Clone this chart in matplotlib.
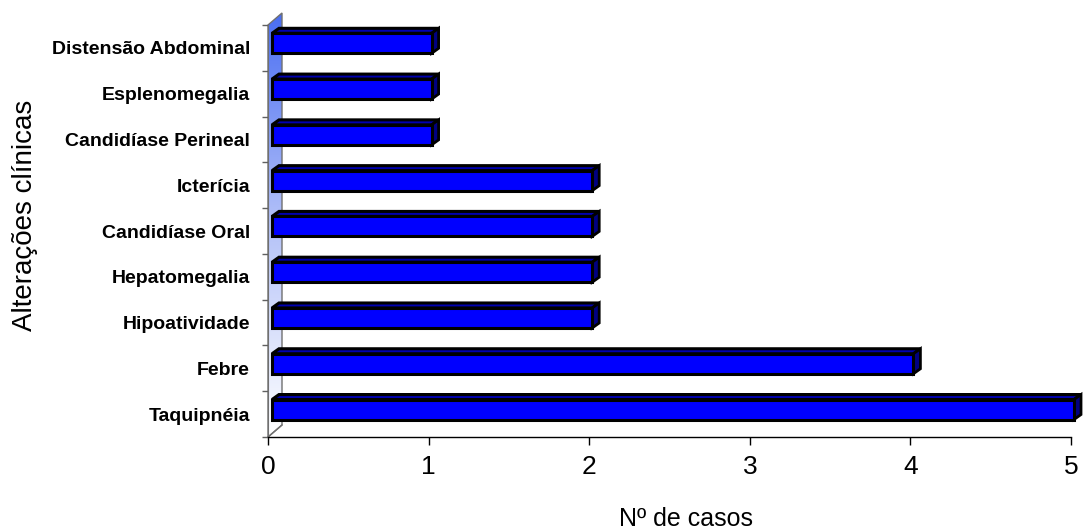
import matplotlib.pyplot as plt
import numpy as np
from matplotlib.patches import Polygon, Rectangle
from matplotlib.colors import LinearSegmentedColormap

categorias = ['Taquipnéia', 'Febre', 'Hipoatividade', 'Hepatomegalia',
              'Candidíase Oral', 'Icterícia', 'Candidíase Perineal',
              'Esplenomegalia', 'Distensão Abdominal']
casos = [5, 4, 2, 2, 2, 2, 1, 1, 1]
xticks = [0, 1, 2, 3, 4, 5]

plt.rcParams['font.family'] = ['Liberation Sans', 'DejaVu Sans']

fig = plt.figure(figsize=(10.84, 5.30), dpi=100)
ax = fig.add_axes([268 / 1084, 93 / 530, 803 / 1084, 412 / 530])
ax.set_xlim(0, 5)
ax.set_ylim(-0.5, 8.5)

# pixel -> data conversions for the fake 3D depth
px_x = 5 / 803.0
px_y = 9 / 412.0

# back wall with gradient
wx, wy = 14 * px_x, 12 * px_y
wall = Polygon([(0, -0.5), (0, 8.5), (wx, 8.5 + wy), (wx, -0.5 + wy)],
               closed=True, facecolor='none', edgecolor='#707070', lw=1.0,
               clip_on=False, zorder=1)
ax.add_patch(wall)
cmap = LinearSegmentedColormap.from_list('wall', ['#ffffff', '#b4c2f8', '#4a6ef2'])
grad = np.linspace(0, 1, 256).reshape(-1, 1)
im = ax.imshow(grad, cmap=cmap, origin='lower', aspect='auto',
               extent=(0, wx, -0.5, 8.5 + wy), zorder=0.5)
im.set_clip_box(fig.bbox)
im.set_clip_path(wall)
ax.set_xlim(0, 5)
ax.set_ylim(-0.5, 8.5)
ax.plot([0, wx], [-0.5, -0.5 + wy], color='#707070', lw=1.0, clip_on=False, zorder=1)

# bars
x0 = 4 * px_x
dx, dy = 7 * px_x, 5 * px_y
h = 20 * px_y
for i, v in enumerate(casos):
    yc = i + 0.1
    yb, yt = yc - h / 2, yc + h / 2
    x1 = v + 3 * px_x
    top = Polygon([(x0, yt), (x0 + dx, yt + dy), (x1 + dx, yt + dy), (x1, yt)],
                  closed=True, facecolor='#0000b0', edgecolor='black', lw=2.2,
                  joinstyle='miter', clip_on=False, zorder=3)
    side = Polygon([(x1, yb), (x1, yt), (x1 + dx, yt + dy), (x1 + dx, yb + dy)],
                   closed=True, facecolor='#000080', edgecolor='black', lw=2.0,
                   joinstyle='miter', clip_on=False, zorder=3)
    front = Rectangle((x0, yb), x1 - x0, h, facecolor='#0000ff',
                      edgecolor='black', lw=2.2, joinstyle='miter',
                      clip_on=False, zorder=4)
    ax.add_patch(top)
    ax.add_patch(side)
    ax.add_patch(front)

for s in ['top', 'right']:
    ax.spines[s].set_visible(False)
ax.spines['left'].set_color('#707070')
ax.spines['bottom'].set_color('black')
ax.spines['bottom'].set_linewidth(1.0)

ax.set_xticks(xticks)
ax.set_xticklabels([str(t) for t in xticks], fontsize=19)
ax.tick_params(axis='x', direction='out', length=6, width=1, pad=7)

ax.set_yticks(np.arange(len(categorias)))
ax.set_yticklabels(categorias, fontsize=14, fontweight='bold')
ax.set_yticks(np.arange(-0.5, len(categorias), 1), minor=True)
ax.tick_params(axis='y', which='major', length=0, pad=13)
ax.tick_params(axis='y', which='minor', direction='out', length=4.5, width=1,
               color='#606060')

fig.text(686 / 1084, 1 - 519 / 530, 'Nº de casos', fontsize=18,
         ha='center', va='center')
fig.text(25 / 1084, 1 - 215 / 530, 'Alterações clínicas', fontsize=20,
         rotation=90, ha='center', va='center')

fig.savefig('out.png', dpi=100)
